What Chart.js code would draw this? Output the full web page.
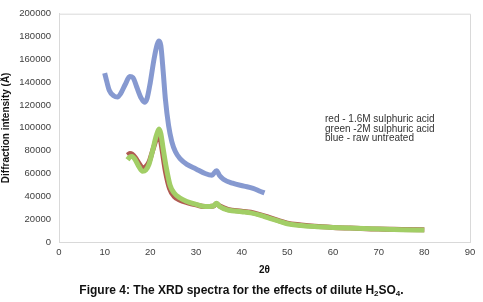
<!DOCTYPE html>
<html>
<head>
<meta charset="utf-8">
<script src="https://cdn.jsdelivr.net/npm/chart.js@4"></script>
<style>
  body { margin: 0; background: #fff; }
  #wrap { position: relative; width: 483px; height: 302px; }
  #note { position: absolute; left: 325px; top: 114px; font: 10px "Liberation Sans", Arial, sans-serif; line-height: 9.5px; color: #333; white-space: pre; }
  #caption { position: absolute; left: 0; width: 483px; top: 283px; text-align: center; font: bold 12px "Liberation Sans", Arial, sans-serif; color: #111; }
  #caption sub { font-size: 8px; vertical-align: -2px; }
</style>
</head>
<body>
<div id="wrap">
  <canvas id="xrd" width="483" height="302"></canvas>
  <div id="note">red - 1.6M sulphuric acid
green -2M sulphuric acid
blue - raw untreated</div>
  <div id="caption">Figure 4: The XRD spectra for the effects of dilute H<sub>2</sub>SO<sub>4</sub>.</div>
</div>
<script>
// raw untreated (blue)
var blueX = [10, 10.5, 11, 12, 12.8, 13.5, 14.5, 15.5, 16.2, 17, 18, 18.7, 19.3, 20, 20.8, 21.5, 21.9, 22.3, 22.8, 23.3, 24, 24.7, 25.5, 26.5, 28, 30, 32, 33.5, 34.5, 35.2, 36, 38, 40.5, 42.5, 44, 45];
var blueY = [148000, 140000, 133000, 128000, 127000, 130000, 138000, 145000, 144000, 136000, 126000, 122500, 126000, 140000, 160000, 173000, 176000, 172000, 150000, 125000, 102000, 88000, 79000, 73000, 68000, 64000, 60000, 58500, 62500, 58000, 55000, 51500, 49000, 47000, 44500, 43000];

// 1.6M sulphuric acid (red)
var redX = [15, 15.5, 16, 16.7, 17.5, 18.3, 19, 19.7, 20.5, 21.3, 21.7, 22.1, 22.6, 23.3, 24.2, 25.2, 26.5, 28, 30, 32, 33.8, 34.5, 35.2, 37, 40, 42, 44, 46, 48, 50, 53, 56, 60, 65, 70, 75, 80];
var redY = [76000, 77500, 77000, 74000, 69000, 65000, 66000, 70000, 80000, 90000, 94000, 92000, 80000, 62000, 47000, 40000, 36500, 34500, 32500, 31000, 31500, 33500, 31500, 28500, 27000, 26000, 24000, 21500, 19000, 16500, 15000, 13800, 12800, 12000, 11300, 11000, 10700];

// 2M sulphuric acid (green)
var greenX = [15, 15.5, 16, 16.7, 17.5, 18.3, 19, 19.7, 20.5, 21.3, 21.9, 22.3, 22.8, 23.5, 24.3, 25.2, 26.5, 28, 30, 32, 33.8, 34.5, 35.2, 37, 40, 42, 44, 46, 48, 50, 53, 56, 60, 65, 70, 75, 80];
var greenY = [72000, 74500, 75000, 72000, 66000, 62000, 63000, 68000, 80000, 93000, 99000, 95000, 82000, 65000, 50000, 43000, 38500, 35500, 33000, 31000, 31500, 34000, 31000, 28000, 26500, 25500, 23500, 21000, 18500, 16000, 14500, 13500, 12800, 12000, 11300, 10800, 10500];

function toPoints(xs, ys) {
    return xs.map((x, i) => ({ x: x, y: ys[i] }));
}

function series(label, xs, ys, color, width, order) {
    return {
        label: label,
        data: toPoints(xs, ys),
        borderColor: color,
        borderWidth: width,
        pointRadius: 0,
        showLine: true,
        fill: false,
        order: order, // lower order is drawn on top
        cubicInterpolationMode: 'monotone'
    };
}

var tickFont = { family: '"Liberation Sans", Arial, sans-serif', size: 9.5 };
var titleFont = { family: '"Liberation Sans", Arial, sans-serif', size: 10, weight: 'bold' };

var config = {
    type: 'scatter',
    data: {
        datasets: [
            series('blue - raw untreated', blueX, blueY, 'rgba(128,148,206,0.95)', 5, 3),
            series('red - 1.6M sulphuric acid', redX, redY, 'rgba(172,80,72,0.95)', 5, 2),
            series('green - 2M sulphuric acid', greenX, greenY, 'rgba(162,206,102,1)', 5, 1)
        ]
    },
    options: {
        animation: false,
        responsive: false,
        layout: { padding: { top: 9, right: 13, left: 0, bottom: 0 } },
        plugins: { legend: { display: false }, tooltip: { enabled: false } },
        scales: {
            x: {
                type: 'linear',
                min: 0,
                max: 90,
                ticks: { stepSize: 10, color: '#404040', font: tickFont, padding: 5, callback: (v) => String(v) },
                grid: { display: false, drawTicks: false },
                border: { color: '#d9d9d9' },
                title: { display: true, text: '2θ', color: '#111', font: titleFont, padding: { top: 0, bottom: 26 } },
                afterFit: (s) => { s.height = 60; }
            },
            y: {
                min: 0,
                max: 200000,
                ticks: { stepSize: 20000, color: '#404040', font: tickFont, padding: 8, callback: (v) => String(v) },
                grid: { display: false, drawTicks: false },
                border: { color: '#d9d9d9' },
                title: { display: true, text: 'Diffraction intensity (Å)', color: '#111', font: titleFont, padding: 0 },
                afterFit: (s) => { s.width = 59; }
            }
        }
    },
    plugins: [{
        id: 'frame',
        beforeDatasetsDraw: (chart) => {
            var a = chart.chartArea, ctx = chart.ctx;
            ctx.save();
            ctx.strokeStyle = '#d9d9d9';
            ctx.lineWidth = 1;
            ctx.beginPath();
            ctx.moveTo(a.left, a.top + 0.5);
            ctx.lineTo(a.right + 0.5, a.top + 0.5);
            ctx.lineTo(a.right + 0.5, a.bottom);
            ctx.stroke();
            ctx.restore();
        }
    }]
};

var ctx = document.getElementById('xrd').getContext('2d');
var xrdChart = new Chart(ctx, config);
</script>
</body>
</html>
